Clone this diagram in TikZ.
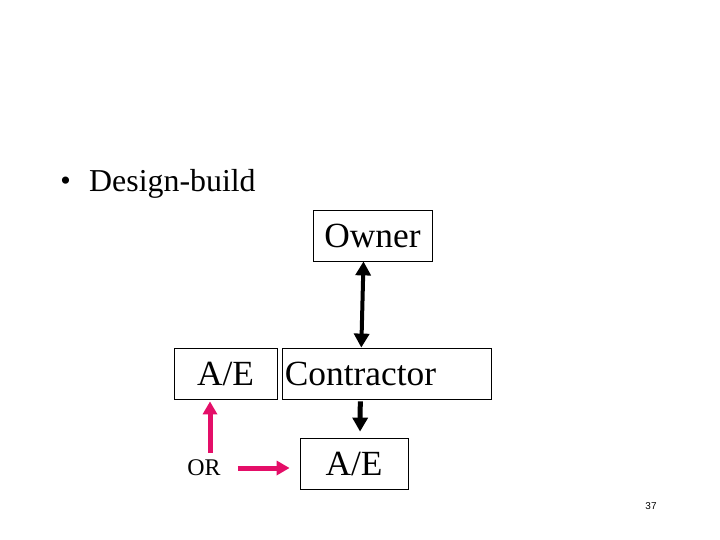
\documentclass[tikz,border=0pt]{standalone}
\usepackage{fontspec}
\setmainfont{Liberation Serif}
\newfontfamily\pagefont{Liberation Sans}
\usepackage{xcolor}
\usetikzlibrary{arrows.meta, positioning, calc}
\definecolor{hotpink}{RGB}{228,14,104}

\begin{document}
\begin{tikzpicture}[
    x=1bp, y=-1bp,
    box/.style={draw, line width=0.8bp, inner sep=0pt, minimum height=51bp,
        font=\fontsize{35.5}{40}\selectfont},
    blackarr/.style={-{Triangle[length=14bp, width=15bp]}, line width=4bp},
    pinkarr/.style={-{Triangle[length=13bp, width=14bp]}, line width=5bp, draw=hotpink}
]
\useasboundingbox (0,0) rectangle (720,540);
\node[font=\fontsize{30}{34}\selectfont, inner sep=0pt] (dot) at (65.5,184) {\textbullet};
\node[anchor=base west, inner sep=0pt, font=\fontsize{32}{38}\selectfont] (title) at (89,192) {Design-build};
\node[box, minimum width=119bp] (owner) at (372.5,235.5) {Owner};
\node[box, minimum width=103bp] (ae) at (225.5,373.5) {A/E};
\node[box, minimum width=209bp, text width=205bp, align=left, inner xsep=2bp, right=5bp of ae] (contr) {Contractor};
\node[box, minimum width=108bp] (aebot) at (354,463.5) {A/E};
\node[font=\fontsize{24}{28}\selectfont, inner sep=1bp] (or) at (204,468) {OR};
\node[font=\pagefont\fontsize{10}{12}\selectfont] (page) at (651,506) {37};
\coordinate (aetip) at ([xshift=-15.5bp]ae.south);

\draw[blackarr, {Triangle[length=14bp, width=15bp]}-{Triangle[length=14bp, width=15bp]}]
    ([xshift=-9bp]owner.south) -- ([xshift=-26bp]contr.north);
\draw[blackarr, line width=5bp, shorten <=2bp, shorten >=6bp]
    ([xshift=-27bp]contr.south) -- ([xshift=6bp]aebot.north);
\draw[pinkarr, shorten <=6bp, shorten >=2bp] (or.north -| aetip) -- (aetip);
\draw[pinkarr, shorten <=16bp, shorten >=10bp] (or.east) -- (or.east -| aebot.west);
\end{tikzpicture}
\end{document}
